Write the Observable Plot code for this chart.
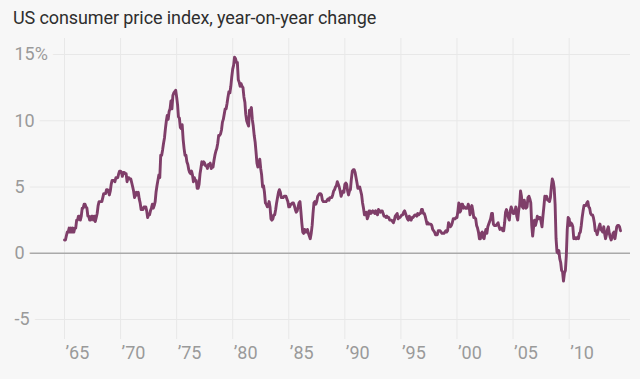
<!DOCTYPE html>
<html>
<head>
<meta charset="utf-8">
<script src="https://cdn.jsdelivr.net/npm/d3@7"></script>
<script src="https://cdn.jsdelivr.net/npm/@observablehq/plot@0.6"></script>
<style>
  html, body { margin: 0; padding: 0; background: #f7f7f7; }
  #title {
    box-sizing: border-box; height: 36px; padding: 7px 0 0 13px;
    font-family: Roboto, sans-serif; font-size: 18px; color: #2e2e2e; line-height: 22px;
    white-space: nowrap; letter-spacing: -0.1px;
  }
</style>
</head>
<body>
<div id="title"></div>
<div id="chart"></div>
<script>
const titleText = "US consumer price index, year-on-year change";

const startYear = 1965; // monthly values from January 1965
const cpi1960s = [
  1.0, 1.0, 1.3, 1.6, 1.6, 1.9, 1.6, 1.9, 1.6, 1.9, 1.6, 1.9,
  1.9, 2.5, 2.5, 2.8, 2.8, 2.5, 2.8, 3.4, 3.4, 3.7, 3.7, 3.5,
  3.4, 2.8, 2.8, 2.5, 2.5, 2.8, 2.8, 2.5, 2.8, 2.4, 2.7, 3.0,
  3.6, 3.9, 3.9, 3.9, 3.9, 4.2, 4.5, 4.5, 4.5, 4.8, 4.8, 4.7,
  4.4, 4.7, 5.2, 5.5, 5.5, 5.5, 5.4, 5.7, 5.7, 5.7, 6.0, 6.2
];
const cpi1970s = [
  6.2, 6.1, 5.8, 6.1, 6.1, 6.0, 6.0, 5.4, 5.7, 5.7, 5.6, 5.6,
  5.3, 5.0, 4.7, 4.2, 4.4, 4.6, 4.4, 4.6, 4.1, 3.8, 3.3, 3.3,
  3.3, 3.5, 3.5, 3.5, 3.2, 2.7, 2.9, 2.9, 3.2, 3.4, 3.7, 3.4,
  3.6, 3.9, 4.6, 5.1, 5.5, 5.9, 5.7, 7.4, 7.4, 7.8, 8.3, 8.7,
  9.4, 10.0, 10.4, 10.1, 10.7, 10.9, 11.5, 10.9, 11.9, 12.1, 12.2, 12.3,
  11.8, 11.2, 10.3, 10.2, 9.5, 9.4, 9.7, 8.6, 7.9, 7.4, 7.4, 6.9,
  6.7, 6.3, 6.1, 6.0, 6.2, 5.9, 5.4, 5.7, 5.5, 5.5, 4.9, 4.9,
  5.2, 6.0, 6.4, 6.9, 6.7, 6.9, 6.8, 6.6, 6.6, 6.4, 6.7, 6.7,
  6.8, 6.4, 6.6, 6.5, 7.0, 7.4, 7.7, 7.9, 8.3, 8.9, 8.9, 9.0,
  9.3, 9.9, 10.1, 10.5, 10.9, 10.9, 11.3, 11.8, 12.2, 12.1, 12.6, 13.3
];
const cpi1980s = [
  13.9, 14.2, 14.8, 14.7, 14.4, 14.4, 13.1, 12.9, 12.6, 12.8, 12.6, 12.5,
  11.8, 11.4, 10.5, 10.0, 9.8, 9.6, 10.8, 10.8, 11.0, 10.1, 9.6, 8.9,
  8.4, 7.6, 6.8, 6.5, 6.7, 7.1, 6.4, 5.9, 5.0, 5.1, 4.6, 3.8,
  3.7, 3.5, 3.6, 3.9, 3.5, 2.6, 2.5, 2.6, 2.9, 2.9, 3.3, 3.8,
  4.2, 4.6, 4.8, 4.6, 4.2, 4.2, 4.2, 4.3, 4.3, 4.3, 4.1, 3.9,
  3.5, 3.5, 3.7, 3.7, 3.8, 3.8, 3.6, 3.3, 3.1, 3.2, 3.5, 3.8,
  3.9, 3.1, 2.3, 1.6, 1.5, 1.8, 1.6, 1.6, 1.8, 1.5, 1.3, 1.1,
  1.5, 2.1, 3.0, 3.8, 3.9, 3.7, 3.9, 4.3, 4.4, 4.5, 4.5, 4.4,
  4.0, 3.9, 3.9, 3.9, 3.9, 4.0, 4.1, 4.0, 4.2, 4.2, 4.2, 4.4,
  4.7, 4.8, 5.0, 5.1, 5.4, 5.2, 5.0, 4.7, 4.3, 4.5, 4.7, 4.6
];
const cpi1990s = [
  5.2, 5.3, 5.2, 4.7, 4.4, 4.7, 4.8, 5.6, 6.2, 6.3, 6.3, 6.1,
  5.7, 5.3, 4.9, 4.9, 5.0, 4.7, 4.4, 3.8, 3.4, 2.9, 3.0, 3.1,
  2.6, 2.8, 3.2, 3.2, 3.0, 3.1, 3.2, 3.1, 3.0, 3.2, 3.0, 2.9,
  3.3, 3.2, 3.1, 3.2, 3.2, 3.0, 2.8, 2.8, 2.7, 2.8, 2.7, 2.7,
  2.5, 2.5, 2.5, 2.4, 2.3, 2.5, 2.8, 2.9, 3.0, 2.6, 2.7, 2.7,
  2.8, 2.9, 2.9, 3.1, 3.2, 3.0, 2.8, 2.6, 2.5, 2.8, 2.6, 2.5,
  2.7, 2.7, 2.8, 2.9, 2.9, 2.8, 3.0, 2.9, 3.0, 3.0, 3.3, 3.3,
  3.0, 3.0, 2.8, 2.5, 2.2, 2.3, 2.2, 2.2, 2.2, 2.1, 1.8, 1.7,
  1.6, 1.4, 1.4, 1.4, 1.7, 1.7, 1.7, 1.6, 1.5, 1.5, 1.5, 1.6,
  1.7, 1.6, 1.7, 2.3, 2.1, 2.0, 2.1, 2.3, 2.6, 2.6, 2.6, 2.7
];
const cpi2000s = [
  2.7, 3.2, 3.8, 3.1, 3.2, 3.7, 3.7, 3.4, 3.5, 3.4, 3.4, 3.4,
  3.7, 3.5, 2.9, 3.3, 3.6, 3.2, 2.7, 2.7, 2.6, 2.1, 1.9, 1.6,
  1.1, 1.1, 1.5, 1.6, 1.2, 1.1, 1.5, 1.8, 1.5, 2.0, 2.2, 2.4,
  2.6, 3.0, 3.0, 2.2, 2.1, 2.1, 2.1, 2.2, 2.3, 2.0, 1.8, 1.9,
  1.9, 1.7, 1.7, 2.3, 3.1, 3.3, 3.0, 2.7, 2.5, 3.2, 3.5, 3.3,
  3.0, 3.0, 3.1, 3.5, 2.8, 2.5, 3.2, 3.6, 4.7, 4.3, 3.5, 3.4,
  4.0, 3.6, 3.4, 3.5, 4.2, 4.3, 4.1, 3.8, 2.1, 1.3, 2.0, 2.5,
  2.1, 2.4, 2.8, 2.6, 2.7, 2.7, 2.4, 2.0, 2.8, 3.5, 4.3, 4.1,
  4.3, 4.0, 4.0, 3.9, 4.2, 5.0, 5.6, 5.4, 4.9, 3.7, 1.1, 0.1,
  0.0, 0.2, -0.4, -0.7, -1.3, -1.4, -2.1, -1.5, -1.3, -0.2, 1.8, 2.7
];
const cpi2010s = [
  2.6, 2.1, 2.3, 2.2, 2.0, 1.1, 1.2, 1.1, 1.1, 1.2, 1.1, 1.5,
  1.6, 2.1, 2.7, 3.2, 3.6, 3.6, 3.6, 3.8, 3.9, 3.5, 3.4, 3.0,
  2.9, 2.9, 2.7, 2.3, 1.7, 1.7, 1.4, 1.7, 2.0, 2.2, 1.8, 1.7,
  1.6, 2.0, 1.5, 1.1, 1.4, 1.8, 2.0, 1.5, 1.2, 1.0, 1.2, 1.5,
  1.6, 1.1, 1.5, 2.0, 2.1, 2.1, 2.0, 1.7
];

const yTicks = [-5, 0, 5, 10, 15];
const yTickLabels = ["-5", "0", "5", "10", "15%"];
const xTickYears = [1965, 1970, 1975, 1980, 1985, 1990, 1995, 2000, 2005, 2010];
const xTickLabels = ["\u201965", "\u201970", "\u201975", "\u201980", "\u201985", "\u201990", "\u201995", "\u201900", "\u201905", "\u201910"];

const values = [].concat(cpi1960s, cpi1970s, cpi1980s, cpi1990s, cpi2000s, cpi2010s);
const data = values.map((v, i) => ({date: new Date(Date.UTC(startYear, i, 1)), value: v}));
const xTickDates = xTickYears.map(y => new Date(Date.UTC(y, 0, 1)));

const bg = "#f7f7f7";
const gridColor = "#e8e8e8";
const labelColor = "#9a9a9a";

document.getElementById("title").textContent = titleText;

const chart = Plot.plot({
  width: 640,
  height: 343,
  marginLeft: 64,
  marginRight: 20,
  marginTop: 18,
  marginBottom: 60,
  x: {type: "utc", axis: null},
  y: {domain: [-5, 15], axis: null},
  style: {background: "transparent", fontFamily: "Roboto, sans-serif"},
  marks: [
    Plot.ruleX(xTickDates, {stroke: gridColor, strokeWidth: 1, insetTop: -16, insetBottom: -20}),
    Plot.ruleY(yTicks.filter(d => d !== 0), {stroke: gridColor, strokeWidth: 1, insetLeft: -50, insetRight: -10}),
    Plot.ruleY([0], {stroke: "#aaaaaa", strokeWidth: 1.5, insetLeft: -50, insetRight: -10}),
    Plot.text(yTicks, {
      y: d => d, text: (d, i) => yTickLabels[i],
      frameAnchor: "left", textAnchor: "start", dx: -50,
      fill: labelColor, fontSize: 18, stroke: bg, strokeWidth: 12
    }),
    Plot.text(xTickDates, {
      x: d => d, text: (d, i) => xTickLabels[i],
      frameAnchor: "bottom", textAnchor: "start", lineAnchor: "middle", dx: 1, dy: 34,
      fill: labelColor, fontSize: 18
    }),
    Plot.line(data, {x: "date", y: "value", stroke: "#7f3e69", strokeWidth: 2.9, strokeLinejoin: "round"})
  ]
});
document.getElementById("chart").appendChild(chart);
</script>
</body>
</html>
